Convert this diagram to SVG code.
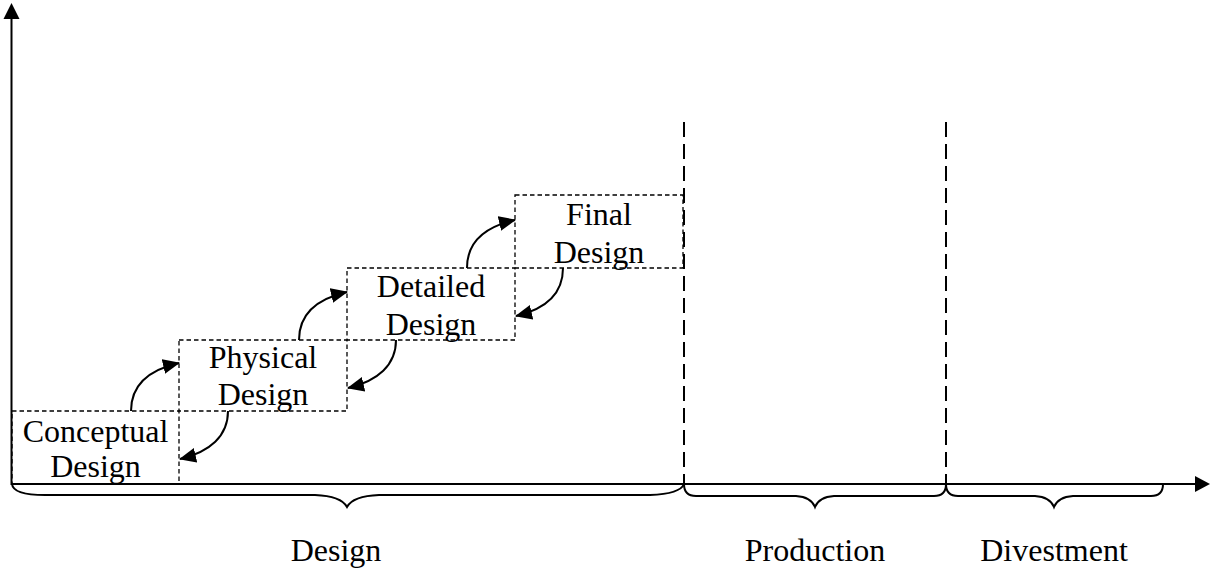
<svg xmlns="http://www.w3.org/2000/svg" width="1213" height="569" viewBox="0 0 1213 569">
  <style>
    .axis { stroke: #000; stroke-width: 2; fill: none; }
    .stage { fill: none; stroke: #000; stroke-width: 1.3; stroke-dasharray: 4.5 3; }
    .phase { stroke: #000; stroke-width: 2; stroke-dasharray: 15 7; fill: none; }
    .brace { stroke: #000; stroke-width: 2; fill: none; }
    .flow { stroke: #000; stroke-width: 2; fill: none; marker-end: url(#head); }
    .lbl { font-family: "Liberation Serif", "Times New Roman", serif; font-size: 32px; fill: #000; text-anchor: middle; }
  </style>
  <defs>
    <marker id="head" viewBox="0 0 17 15" refX="16" refY="7.5" markerWidth="17" markerHeight="15" markerUnits="userSpaceOnUse" orient="auto">
      <path d="M0,0 L17,7.5 L0,15 z" fill="#000"/>
    </marker>
  </defs>

  <rect width="1213" height="569" fill="#fff"/>

  <!-- design stages -->
  <g id="conceptual">
    <rect class="stage" x="12" y="411" width="167" height="73"/>
    <text class="lbl" x="95.5" y="442">Conceptual</text>
    <text class="lbl" x="95.5" y="477">Design</text>
  </g>
  <g id="physical">
    <rect class="stage" x="179" y="340" width="168" height="71"/>
    <text class="lbl" x="263" y="368">Physical</text>
    <text class="lbl" x="263" y="405">Design</text>
  </g>
  <g id="detailed">
    <rect class="stage" x="347" y="268" width="168" height="72"/>
    <text class="lbl" x="431" y="297">Detailed</text>
    <text class="lbl" x="431" y="335">Design</text>
  </g>
  <g id="final">
    <rect class="stage" x="515" y="195" width="168" height="73"/>
    <text class="lbl" x="599" y="225">Final</text>
    <text class="lbl" x="599" y="263">Design</text>
  </g>

  <!-- phase boundaries -->
  <g id="boundaries">
    <line class="phase" x1="684" y1="122" x2="684" y2="484"/>
    <line class="phase" x1="946" y1="122" x2="946" y2="484"/>
  </g>

  <!-- iteration arrows between stages -->
  <g id="connectors">
    <path class="flow" d="M131,411 C131,385 148,370 179,363"/>
    <path class="flow" d="M228,411 C228,436 210,452 180,459"/>
    <path class="flow" d="M299,340 C299,314 316,299 347,292"/>
    <path class="flow" d="M396,340 C396,365 378,381 348,388"/>
    <path class="flow" d="M467,268 C467,242 484,227 515,220"/>
    <path class="flow" d="M563,268 C563,293 546,309 516,316"/>
  </g>

  <!-- axes -->
  <g id="axes">
    <line class="axis" x1="11.5" y1="485" x2="11.5" y2="16"/>
    <polygon points="11.5,3 3.5,19 19.5,19" fill="#000"/>
    <line class="axis" x1="11" y1="484" x2="1198" y2="484"/>
    <polygon points="1210,484 1195,476 1195,492" fill="#000"/>
  </g>

  <!-- phase braces -->
  <g id="braces">
    <path class="brace" d="M12,484 Q13,495 45,495 L315,495 Q341,496 347,507 Q353,496 379,495 L650,495 Q680,494 684,484"/>
    <path class="brace" d="M684,484 Q684,496 696,496 L796,496 Q811,497 815,507 Q819,497 834,496 L934,496 Q946,496 946,484"/>
    <path class="brace" d="M946,484 Q946,496 958,496 L1035,496 Q1050,497 1054,507 Q1058,497 1073,496 L1151,496 Q1163,496 1163,484"/>
  </g>

  <!-- phase labels -->
  <g id="phases">
    <text class="lbl" x="336" y="561">Design</text>
    <text class="lbl" x="815" y="561">Production</text>
    <text class="lbl" x="1054" y="561">Divestment</text>
  </g>
</svg>
